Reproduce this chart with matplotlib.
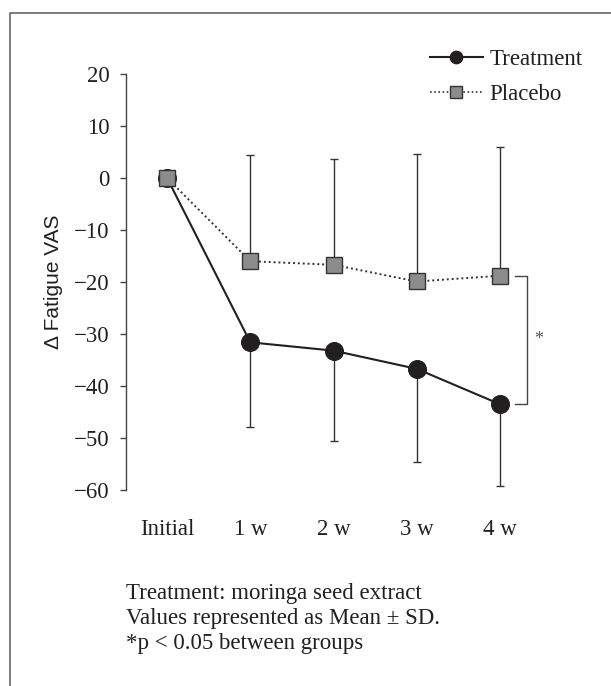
import numpy as np
import matplotlib.pyplot as plt
from matplotlib.lines import Line2D

# Data
timepoints = ["Initial", "1 w", "2 w", "3 w", "4 w"]
treatment_mean = [0.0, -31.6, -33.2, -36.7, -43.5]
treatment_sd = [0.0, 16.2, 17.3, 18.0, 15.8]
placebo_mean = [0.0, -16.0, -16.7, -19.9, -18.8]
placebo_sd = [0.0, 20.5, 20.4, 24.6, 24.7]
ytick_values = [20, 10, 0, -10, -20, -30, -40, -50, -60]
ytick_labels = ["20", "10", "0", "\u221210", "\u221220", "\u221230", "\u221240", "\u221250", "\u221260"]
footnote_lines = [
    "Treatment: moringa seed extract",
    "Values represented as Mean \u00b1 SD.",
    "*p < 0.05 between groups",
]

W, H = 611, 686
DARK = "#231f20"
GREY = "#8c8c8c"
FS = 16.5

plt.rcParams["font.family"] = ["Liberation Serif", "DejaVu Serif"]
plt.rcParams["text.color"] = DARK

fig = plt.figure(figsize=(W / 100, H / 100), dpi=100)
ax = fig.add_axes([125.5 / W, 1 - 490 / H, 416 / W, 416 / H])

x = np.arange(len(timepoints))
tm = np.array(treatment_mean)
ts = np.array(treatment_sd)
pm = np.array(placebo_mean)
ps = np.array(placebo_sd)

# error bars: treatment downward, placebo upward
ax.errorbar(x[1:], tm[1:], yerr=[ts[1:], np.zeros(len(x) - 1)], fmt="none",
            ecolor="#333333", elinewidth=1.0, capsize=3.2, capthick=1.0, zorder=1)
ax.errorbar(x[1:], pm[1:], yerr=[np.zeros(len(x) - 1), ps[1:]], fmt="none",
            ecolor="#333333", elinewidth=1.0, capsize=3.2, capthick=1.0, zorder=1)

ax.plot(x, tm, "-", color=DARK, lw=1.5, marker="o", markersize=12.7,
        markerfacecolor=DARK, markeredgecolor=DARK, zorder=3)
ax.plot(x, pm, linestyle=(0, (1, 1.5)), color="#333333", lw=1.4, marker="s",
        markersize=12.2, markerfacecolor=GREY, markeredgecolor="#333333",
        markeredgewidth=1.0, zorder=4)

# significance bracket at 4 w
xb0, xb1 = x[-1] + 0.18, x[-1] + 0.32
ax.plot([xb0, xb1, xb1, xb0], [pm[-1], pm[-1], tm[-1], tm[-1]],
        color="#444444", lw=1.0, clip_on=False)
ax.text(x[-1] + 0.46, (pm[-1] + tm[-1]) / 2, "*", ha="center", va="center",
        fontsize=13, color="#555555")

ax.set_xlim(-0.5, 4.5)
ax.set_ylim(-60, 20)
ax.set_xticks(x)
ax.set_xticklabels(timepoints, fontsize=FS)
ax.set_yticks(ytick_values)
ax.set_yticklabels(ytick_labels, fontsize=FS)
ax.tick_params(axis="x", length=0, pad=21, colors=DARK)
ax.tick_params(axis="y", direction="out", length=4.3, width=1.0, pad=7,
               colors="#444444", labelcolor=DARK)

for side in ["top", "right", "bottom"]:
    ax.spines[side].set_visible(False)
ax.spines["left"].set_color("#444444")
ax.spines["left"].set_linewidth(1.0)

ax.set_ylabel("\u0394 Fatigue VAS", fontsize=15, family=["Liberation Sans", "DejaVu Sans"],
              color=DARK)
ax.yaxis.set_label_coords(-0.15, 0.5)

handles = [
    Line2D([], [], color=DARK, lw=1.5, marker="o", markersize=8.9,
           markerfacecolor=DARK, markeredgecolor=DARK),
    Line2D([], [], color="#333333", lw=1.2, linestyle=(0, (1, 1.5)), marker="s",
           markersize=8, markerfacecolor=GREY, markeredgecolor="#333333",
           markeredgewidth=1.0),
]
fig.legend(handles, ["Treatment", "Placebo"], loc="upper left",
           bbox_to_anchor=(430 / W, 1 - 49 / H), frameon=False, fontsize=FS,
           borderpad=0, borderaxespad=0, handlelength=2.3, handletextpad=0.3,
           labelspacing=0.6)

for i, line in enumerate(footnote_lines):
    fig.text(126 / W, 1 - (593 + 25.5 * i) / H, line, fontsize=FS,
             ha="left", va="center")

# figure frame (top and left only)
fig.add_artist(Line2D([10 / W, 10 / W, 1.0], [0.0, 1 - 13 / H, 1 - 13 / H],
                      transform=fig.transFigure, color="#666666", lw=1.2))

fig.savefig("out.png", dpi=100)
